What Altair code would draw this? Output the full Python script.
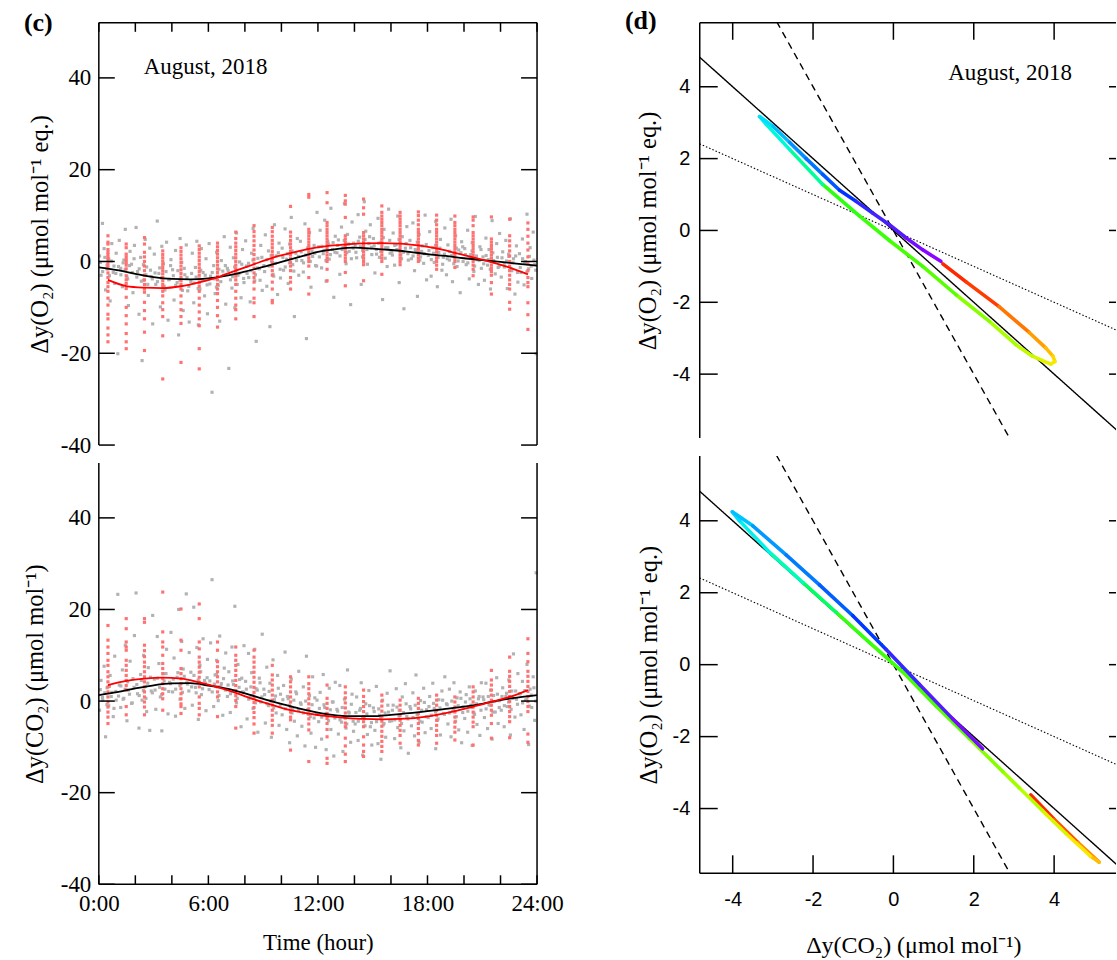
import altair as alt
import pandas as pd

SERIF = "Liberation Serif"
SANS = "Liberation Sans"

# ---------------- data ----------------
HOURS = list(range(25))
RED_HOURS = [i + 0.5 for i in range(24)]
GRAY_FRAC = [0.04, 0.12, 0.20, 0.29, 0.37, 0.45, 0.54, 0.62, 0.71, 0.79, 0.87, 0.95]
CORE_FRAC = [0.08, 0.21, 0.33, 0.44, 0.58, 0.68, 0.83, 0.93]

# fitted diurnal curves, panel (c)
O2_BLACK = [-1.3, -1.9, -2.7, -3.4, -3.8, -3.9, -3.7, -3.1, -2.2, -1.2, -0.1, 1.0, 2.1,
            2.7, 3.0, 2.8, 2.5, 2.1, 1.6, 1.2, 0.7, 0.3, -0.1, -0.5, -0.9]
O2_RED = [-4.0, -5.35, -5.7, -5.8, -5.4, -4.55, -3.45, -2.0, -0.6, 0.8, 1.8, 2.75,
          3.35, 3.7, 3.95, 4.0, 3.9, 3.5, 2.85, 1.9, 0.9, -0.15, -1.35, -2.8]
CO2_BLACK = [1.3, 1.95, 2.75, 3.45, 3.85, 3.9, 3.4, 2.7, 1.7, 0.5, -0.6, -1.65, -2.5,
             -3.1, -3.3, -3.3, -3.0, -2.65, -2.2, -1.7, -1.2, -0.6, 0.2, 0.8, 1.3]
CO2_RED = [3.5, 4.4, 4.9, 5.1, 4.9, 4.1, 3.05, 1.8, 0.35, -0.85, -2.0, -2.75, -3.3,
           -3.65, -3.9, -4.0, -3.9, -3.6, -3.0, -2.2, -1.2, -0.2, 0.9, 2.4]

# red (hour-binned) points, one list per hour column
O2_RED_COLS = [
    [5.6, 4.2, 3.8, 2.6, 2.0, 1.5, 0.9, 0.4, -0.2, -0.9, -1.6, -2.5, -3.5, -4.6, -5.5, -6.5, -8.0, -9.5, -11.5, -12.5, -14.5, -16.0, -17.5],
    [3.8, 3.0, 1.6, 1.0, 0.4, -0.2, -0.8, -1.6, -3.1, -4.0, -4.8, -5.9, -7.8, -10.0, -11.8, -13.6, -15.7, -17.5, -19.0],
    [5.2, 3.8, 2.0, 1.0, 0.0, -1.0, -2.0, -3.0, -4.0, -5.0, -6.0, -6.7, -8.9, -10.7, -12.5, -15.4, -19.4],
    [2.3, 1.5, 0.8, 0.1, -0.6, -1.3, -2.0, -2.7, -3.5, -4.2, -5.0, -5.7, -6.5, -7.5, -9.0, -10.5, -12.0, -16.2, -25.6],
    [3.0, 2.2, 1.4, 0.6, -0.2, -1.0, -1.8, -2.6, -3.4, -4.2, -5.0, -6.0, -7.5, -9.0, -10.5, -12.0, -13.5, -22.0],
    [3.4, 2.6, 1.8, 1.0, 0.2, -0.6, -1.4, -2.2, -3.0, -3.8, -4.6, -5.4, -6.5, -8.0, -9.5, -11.0, -12.5, -14.0, -19.0, -23.4],
    [4.0, 3.2, 2.4, 1.6, 0.8, 0.0, -0.8, -1.6, -2.4, -3.2, -4.0, -5.0, -6.0, -7.0, -8.5, -10.0, -11.8, -14.3],
    [6.4, 5.0, 4.0, 3.2, 2.4, 1.6, 0.8, 0.0, -0.8, -1.6, -2.4, -3.2, -4.0, -5.0, -6.5, -8.0, -9.5, -10.5, -12.5],
    [7.8, 6.5, 5.5, 4.5, 3.5, 2.5, 1.5, 0.5, -0.5, -1.5, -2.5, -3.5, -4.5, -6.0, -8.0, -9.0, -12.0],
    [7.4, 6.5, 5.5, 4.6, 3.8, 3.0, 2.2, 1.4, 0.6, -0.2, -1.0, -2.0, -3.0, -4.5, -6.0, -8.5, -9.0],
    [12.0, 6.4, 5.5, 4.6, 3.8, 3.0, 2.2, 1.4, 0.6, -0.2, -1.0, -2.0, -3.5, -4.5, -6.0],
    [14.6, 14.0, 7.0, 6.3, 5.6, 4.9, 4.2, 3.5, 2.8, 2.1, 1.4, 0.7, 0.0, -1.0, -3.5, -7.1],
    [15.0, 12.8, 8.5, 7.8, 7.0, 6.3, 5.6, 4.9, 4.2, 3.5, 2.8, 2.1, 1.4, 0.7, 0.0, -1.7, -4.2],
    [14.4, 13.2, 12.5, 9.6, 5.6, 4.9, 4.2, 3.5, 2.8, 2.1, 1.4, 0.7, 0.0, -2.4, -5.3],
    [13.6, 11.7, 10.3, 6.3, 5.6, 4.9, 4.2, 3.5, 2.8, 2.1, 1.4, 0.7, 0.0, -0.7, -4.2],
    [12.1, 10.7, 9.9, 9.2, 8.5, 7.8, 7.0, 6.3, 5.6, 4.9, 4.2, 3.5, 2.8, 2.1, 1.4, 0.7, 0.0, -2.8],
    [10.7, 9.9, 9.2, 8.5, 7.8, 7.0, 6.3, 5.6, 4.9, 4.2, 3.5, 2.8, 2.1, 1.4, 0.7, 0.0, -0.7],
    [10.8, 10.0, 9.0, 8.0, 7.0, 6.3, 5.6, 4.9, 4.2, 3.5, 2.8, 2.1, 1.4, 0.7, 0.0],
    [10.1, 9.0, 8.0, 7.0, 6.3, 5.6, 4.9, 4.2, 3.5, 2.8, 2.1, 1.4, 0.7, 0.0, -0.8, -1.7],
    [9.9, 8.5, 7.8, 7.0, 6.3, 5.6, 4.9, 4.2, 3.5, 2.8, 2.1, 1.4, 0.7, 0.0, -1.3],
    [9.7, 9.0, 7.8, 6.3, 5.6, 4.9, 4.2, 3.5, 2.8, 2.1, 1.4, 0.7, 0.0, -0.8, -1.7, -3.1],
    [9.7, 4.9, 4.2, 3.5, 2.8, 2.1, 1.4, 0.7, 0.0, -0.8, -1.5, -2.2, -3.0, -4.6, -7.1],
    [9.2, 5.6, 4.5, 3.4, 2.3, 1.2, 0.0, -1.0, -2.0, -3.0, -4.0, -5.0, -6.0, -8.9, -10.4],
    [8.4, 7.0, 5.5, 4.0, 2.5, 1.0, -0.5, -2.0, -3.5, -4.6, -5.5, -9.0, -11.6, -14.8],
]
CO2_RED_COLS = [
    [16.5, 13.3, 11.8, 10.4, 8.9, 7.8, 6.4, 5.3, 4.2, 3.1, 2.0, 0.9, -0.2, -1.3, -2.4, -3.5, -4.9],
    [18.0, 15.8, 12.9, 11.8, 11.1, 8.9, 7.8, 6.7, 5.6, 4.5, 3.4, 2.4, -1.2, -3.0],
    [18.0, 17.2, 12.2, 11.0, 9.7, 8.5, 7.5, 6.4, 5.3, 4.2, 3.1, 2.0, 0.9, -0.2, -1.3, -3.0],
    [23.8, 15.1, 12.9, 11.8, 10.0, 8.2, 7.1, 6.0, 4.9, 3.8, 2.7, 1.6, 0.5, -2.0],
    [20.1, 13.3, 11.1, 7.1, 6.0, 4.9, 3.8, 2.7, 1.6, 0.5, -0.6, -1.2, -2.7],
    [21.2, 18.0, 12.9, 11.4, 9.6, 8.5, 7.4, 6.3, 5.2, 4.1, 3.1, 0.9, -0.5, -1.6, -3.0],
    [12.9, 11.1, 8.6, 7.5, 6.4, 5.3, 4.2, 3.1, 2.0, 0.9, -3.4],
    [11.8, 10.0, 8.9, 7.8, 6.7, 5.6, 4.5, 3.4, 2.3, 1.2, 0.1, -1.2, -5.9],
    [11.1, 9.6, 8.5, 7.4, 6.3, 5.2, 4.1, 3.0, 1.9, 0.8, -0.3, -1.4, -2.5, -3.6, -5.0, -7.0],
    [7.8, 5.7, 4.6, 3.5, 2.4, 1.3, 0.2, -0.9, -2.0, -3.1, -4.2, -5.3, -7.0],
    [5.3, 4.2, 3.1, 2.0, 0.9, -0.2, -1.3, -2.4, -3.5, -4.1, -10.7],
    [5.3, 3.8, 2.7, 1.6, 0.5, -0.6, -1.7, -2.8, -3.9, -5.0, -6.3, -13.2],
    [3.5, 0.6, -0.5, -1.6, -2.7, -3.8, -4.9, -6.2, -7.8, -12.5, -13.6],
    [3.1, 1.8, 0.7, -0.4, -1.5, -2.6, -3.7, -4.8, -5.6, -8.1, -9.8, -11.6, -13.2],
    [2.4, 1.0, -0.1, -1.2, -2.3, -3.4, -4.5, -5.6, -7.8, -9.6, -11.0, -12.1],
    [1.3, 0.0, -1.1, -2.2, -3.3, -4.4, -5.5, -6.6, -7.7, -8.8, -9.9, -11.0],
    [0.2, -0.9, -2.0, -3.1, -4.2, -5.3, -6.4, -7.5, -9.2],
    [0.6, -0.5, -1.6, -2.7, -3.8, -4.9, -6.0, -7.1, -8.6, -9.6],
    [1.3, 0.2, -0.9, -2.0, -3.1, -4.2, -5.3, -6.4, -7.5, -9.2],
    [0.9, -0.2, -1.3, -2.4, -3.5, -4.6, -5.7, -6.8, -8.5],
    [3.1, 2.0, 0.9, -0.2, -1.3, -2.4, -3.5, -4.6, -5.6, -9.6],
    [6.7, 4.6, 3.5, 2.4, 1.3, 0.2, -0.9, -2.0, -3.1, -4.9, -8.1],
    [9.6, 6.5, 5.4, 4.3, 3.2, 2.1, 1.0, -0.1, -1.2, -2.3, -3.4, -4.5, -8.0],
    [13.6, 10.4, 8.6, 6.5, 5.4, 4.3, 3.2, 2.1, 1.0, -0.1, -1.2, -2.3, -7.2, -9.0],
]

# grey (individual) points, per hour, at GRAY_FRAC / CORE_FRAC positions within the hour
O2_GRAY = [
    [1.2, -3.0, 8.3, 2.8, -6.2, -0.8, 0.6, -8.6, 3.9, -2.4, -4.8, 1.8],
    [-20.1, 4.6, -1.5, -5.5, 0.3, 7.0, -3.4, -9.6, 2.2, -0.6, -6.8, 3.5],
    [7.4, -2.2, -11.5, 0.9, -21.6, -4.1, 4.8, -1.2, -7.4, 2.9, -3.3, -13.6],
    [1.6, -5.0, 8.8, -2.6, -9.9, 3.3, -0.5, -6.2, 4.2, -12.8, -3.9, 0.4],
    [-1.8, -8.4, 2.4, -4.6, -16.0, 5.0, -0.2, -10.7, -2.9, 3.6, -6.4, -13.2],
    [-4.4, 1.8, -9.0, -1.3, 4.4, -13.8, -6.0, 2.8, -2.4, -7.5, 0.6, -11.4],
    [3.9, -3.2, -28.5, -0.9, -7.0, 2.0, -5.2, -13.0, 0.2, -2.1, 5.4, -9.3],
    [-1.5, -23.3, 3.1, -5.8, 0.8, -10.1, 6.2, -3.0, -0.1, -7.9, 2.6, -4.6],
    [4.5, -2.6, -0.4, -8.8, 1.8, 7.2, -4.2, -17.4, 0.7, -1.6, 3.5, -6.3],
    [-0.9, 5.8, -5.4, 2.3, -14.2, 0.1, -2.8, 8.0, 1.2, -7.2, 4.0, -3.6],
    [2.9, -1.9, 7.1, 0.5, -4.8, 3.8, 9.6, -0.7, -12.0, 1.8, 5.0, -3.0],
    [4.4, 0.2, -2.3, 8.2, -16.8, 2.7, 6.3, -5.6, 1.1, 3.5, -0.9, 10.7],
    [3.2, 6.8, -1.4, 1.7, 9.0, -4.3, 4.4, 0.5, 11.6, 2.6, -7.8, 5.5],
    [1.9, 4.7, -2.8, 7.5, 3.1, 12.6, -0.5, 5.9, 2.2, -9.4, 8.6, 4.0],
    [3.6, 0.8, 10.2, 5.3, -5.0, 2.4, 13.0, 6.6, -0.6, 3.9, 8.0, 1.5],
    [5.0, -2.5, 2.6, 9.4, 0.9, 4.2, -8.3, 7.0, 3.0, -1.1, 11.4, 1.8],
    [2.1, 6.2, -0.8, 3.7, 9.9, -4.6, 1.4, 5.4, -10.3, 2.9, 7.6, 0.3],
    [4.6, 0.6, 8.4, -2.0, 2.3, -7.6, 5.9, 1.0, 3.4, -0.4, 10.1, -4.0],
    [1.3, 6.5, -3.2, 3.0, -0.2, 8.7, -5.5, 2.0, 4.8, -1.9, 0.9, 7.3],
    [-2.9, 3.6, 0.3, 9.2, -4.4, 1.6, 5.6, -1.1, 2.5, -6.8, 4.3, 0.0],
    [2.8, -0.7, 6.8, -3.8, 1.5, 4.1, -2.2, 9.8, 0.4, -5.0, 3.2, -1.5],
    [1.0, -4.1, 5.1, -0.8, 2.6, -6.0, 8.9, 0.2, -2.7, 3.9, -1.3, 6.1],
    [-3.4, 2.1, -0.4, 4.6, -5.9, 1.1, 9.3, -2.0, 0.6, -7.1, 3.4, -4.5],
    [1.7, -2.4, 4.9, -5.1, 0.0, 10.3, -1.6, 3.0, -3.7, 6.4, -0.7, -20.1],
]
O2_CORE = [
    [-0.2, -2.2, 0.9, -1.6, -3.1, 0.1, -1.0, -2.6], [-1.1, -2.9, -0.3, -1.8, -3.8, -0.9, -2.4, 0.6],
    [-3.4, -1.6, -4.3, -0.7, -2.9, -5.0, -1.9, -3.8], [-2.5, -4.4, -1.4, -3.6, -5.4, -2.2, -4.0, -0.9],
    [-3.1, -5.2, -2.0, -4.0, -6.3, -1.5, -3.5, -5.4], [-2.6, -4.7, -3.4, -5.9, -1.9, -4.0, -3.0, -5.1],
    [-4.9, -2.4, -3.8, -5.6, -1.7, -4.4, -3.0, -0.9], [-2.0, -4.0, -3.3, -1.2, -5.0, -2.6, -0.6, -3.7],
    [-1.0, -3.5, -2.0, 0.3, -2.9, -1.4, -4.1, 0.9], [-2.2, 0.4, -1.0, 1.3, -3.2, -0.4, 1.9, -1.7],
    [0.9, -1.2, 1.7, -0.3, 2.3, -2.1, 0.2, 1.1], [2.1, -0.3, 1.4, 3.0, 0.0, 2.3, 1.8, -1.0],
    [1.0, 3.3, 2.4, 0.2, 3.8, 1.5, 4.1, 2.0], [3.5, 1.2, 2.6, 4.6, 1.9, 3.8, 0.6, 2.9],
    [2.0, 4.4, 3.2, 1.0, 4.8, 2.6, 5.4, 3.1], [3.4, 1.6, 4.0, 2.2, 5.2, 0.7, 3.0, 4.6],
    [1.4, 3.5, 2.6, 4.8, 0.6, 2.0, 3.9, 1.7], [3.0, 1.2, 2.6, 4.2, 0.3, 2.2, 1.7, 3.7],
    [2.4, 0.4, 1.8, 3.5, 0.9, 2.9, -0.6, 1.6], [0.6, 2.2, 1.3, -0.5, 2.9, 0.1, 1.9, 3.2],
    [1.5, -0.3, 0.8, 2.3, -1.0, 1.2, 0.2, 2.6], [-0.5, 1.3, 0.4, -1.7, 1.9, -0.2, 0.9, -1.0],
    [0.8, -1.2, 0.1, 1.6, -1.6, -0.3, 1.2, -2.4], [-1.3, 0.6, -0.4, -2.3, 1.1, -1.0, 0.3, -1.9],
]
CO2_GRAY = [
    [-2.0, 4.5, 0.8, 7.6, -7.8, 2.9, -1.0, 5.6, 1.9, -3.4, 9.8, 0.2],
    [23.3, 3.5, -1.4, 6.8, 0.6, 12.2, -4.3, 2.4, 8.7, -0.5, 4.9, 14.3],
    [23.6, 1.6, -5.9, 5.8, 0.2, 10.0, 3.2, -2.3, 7.3, -6.4, 2.2, 18.7],
    [4.8, -1.8, 14.1, 8.2, 0.9, -6.5, 6.0, 2.6, 11.3, -2.8, 4.1, 15.0],
    [2.0, 9.4, -3.3, 5.2, 20.0, 0.4, 13.0, 7.0, -1.6, 23.4, 3.7, 10.6],
    [6.3, -0.9, 20.5, 3.0, 11.7, -4.0, 7.8, 1.4, 13.6, 4.5, -2.1, 9.1],
    [2.5, 12.7, 26.5, -1.2, 5.7, 8.9, 0.1, 14.2, 3.8, -3.1, 7.2, 10.5],
    [1.0, 6.4, -2.5, 11.8, 3.6, 20.7, -0.4, 8.0, 4.7, -5.6, 2.0, 12.1],
    [4.3, -3.9, 10.4, 0.8, 6.2, -1.6, 11.3, 2.7, -6.8, 5.0, -0.2, 14.6],
    [2.6, -4.8, 7.4, -1.0, 3.9, -7.9, 9.0, 0.3, -2.6, 5.6, -5.3, 1.5],
    [-3.0, 3.4, 10.7, -6.2, 0.5, -9.1, 4.8, -1.8, -4.4, 2.0, -7.6, 6.5],
    [-0.4, -5.5, 3.1, -9.8, 9.8, -2.8, 1.2, -7.0, 5.3, -3.7, -10.1, 0.2],
    [-4.5, 1.9, -8.3, 5.8, -1.4, -10.6, -3.3, 2.8, -6.2, -0.2, -12.0, 4.1],
    [-1.8, -7.2, 3.4, -4.6, -11.0, 0.4, -5.9, 6.8, -2.6, -9.0, 1.5, -6.6],
    [-5.0, 0.9, -8.6, -2.0, 4.0, -11.8, -3.8, -0.6, -7.3, 2.3, -5.6, -9.6],
    [-1.5, -6.4, 3.2, -9.3, -3.1, -12.7, 0.2, -4.9, -7.9, 1.7, -2.4, 6.6],
    [-4.3, -0.9, -8.2, 2.7, -5.8, -2.0, -10.2, 0.9, -6.5, 3.8, -3.4, -11.4],
    [-1.2, -5.4, 1.8, -7.6, 5.7, -3.0, -9.0, 0.1, -4.6, 2.8, -6.9, -1.9],
    [-3.6, 1.0, -6.0, 3.9, -1.6, -10.4, -4.2, 0.3, -7.4, 2.2, -2.7, 5.3],
    [-0.6, -5.0, 2.6, -7.8, -2.2, 4.0, -4.4, 0.7, -6.3, 2.0, -9.1, -1.3],
    [-3.8, 1.4, -6.8, 3.1, -0.9, -9.7, -2.6, 2.2, -5.1, 0.5, -7.5, 4.0],
    [0.9, -3.6, 3.9, -6.0, -0.8, 2.4, -8.3, 1.2, -2.4, 5.1, -4.9, 0.1],
    [-2.0, 2.9, -5.6, 1.0, -1.2, 4.6, -7.4, 2.2, 10.3, -3.5, 0.4, 6.0],
    [1.6, -3.0, 4.3, -6.2, 0.2, 8.0, -9.5, 2.6, -1.4, 5.3, -4.2, 28.0],
]
CO2_CORE = [
    [2.5, 0.2, 1.8, -0.8, 3.2, 1.0, -1.6, 2.1], [1.1, 3.3, 0.4, 2.6, 4.2, 1.5, -0.4, 3.0],
    [3.6, 1.2, 4.5, 2.3, 0.6, 3.9, 5.2, 1.8], [2.4, 5.0, 3.0, 1.4, 4.4, 6.0, 2.1, 3.8],
    [4.8, 2.6, 6.2, 3.4, 1.9, 5.4, 4.0, 2.2], [3.1, 5.6, 1.8, 4.6, 6.4, 2.7, 3.9, 5.1],
    [4.4, 2.0, 3.7, 5.8, 1.2, 3.2, 4.9, 2.4], [3.5, 1.6, 4.4, 2.2, 0.6, 3.0, 5.0, 1.9],
    [2.6, 0.4, 3.1, 1.2, -0.4, 2.4, 4.0, 0.9], [1.4, -0.6, 2.1, 0.0, -1.5, 1.1, 2.8, -0.9],
    [0.3, -1.7, 1.0, -0.9, -2.6, 0.2, 1.6, -2.0], [-0.7, -2.6, 0.0, -1.9, -3.4, -0.8, 0.7, -2.9],
    [-1.6, -3.5, -0.8, -2.7, -4.3, -1.9, -0.2, -3.7], [-2.2, -4.1, -1.4, -3.4, -5.0, -2.4, -0.7, -4.4],
    [-2.5, -4.4, -1.6, -3.6, -5.4, -2.8, -1.0, -4.7], [-2.3, -4.5, -1.7, -3.8, -5.2, -2.6, -0.9, -4.4],
    [-2.0, -4.1, -1.3, -3.3, -4.9, -2.5, -0.6, -3.9], [-1.7, -3.6, -0.9, -2.9, -4.4, -2.0, -0.3, -3.4],
    [-1.2, -3.1, -0.5, -2.4, -3.9, -1.5, 0.2, -2.9], [-0.8, -2.6, 0.0, -1.9, -3.4, -1.0, 0.6, -2.5],
    [-0.2, -2.2, 0.5, -1.4, -2.9, -0.6, 1.0, -2.0], [0.3, -1.7, 1.0, -0.9, -2.4, -0.1, 1.5, -1.4],
    [1.0, -1.0, 1.7, -0.2, -1.8, 0.6, 2.2, -0.7], [1.6, -0.4, 2.3, 0.4, -1.1, 1.3, 2.9, 0.0],
]

# panel (d): diurnal loops (time of day, dCO2, dO2)
D_TOP_HOUR = [0, 1.0, 2.0, 3.0, 3.6, 4.0, 4.5, 5.0, 5.5, 6.0, 6.6, 7.4, 8.4, 9.4, 10.4, 11.4, 12.5,
              13.5, 14.2, 14.6, 15.5, 16.5, 17.5, 18.5, 19.5, 20.3, 21.0, 21.8, 22.6, 23.3, 24]
D_TOP_CO2 = [1.23, 1.81, 2.63, 3.38, 3.79, 3.97, 4.02, 3.92, 3.70, 3.46, 3.05, 2.39, 1.56, 0.73, -0.10,
             -0.84, -1.76, -2.58, -3.16, -3.33, -3.00, -2.58, -2.17, -1.76, -1.34, -0.93, -0.51, -0.10,
             0.32, 0.73, 1.18]
D_TOP_O2 = [-0.93, -1.43, -2.12, -2.84, -3.27, -3.50, -3.65, -3.72, -3.62, -3.50, -3.18, -2.53, -1.79,
            -1.00, -0.28, 0.40, 1.28, 2.25, 2.95, 3.17, 2.90, 2.45, 2.00, 1.56, 1.12, 0.81, 0.48, 0.16,
            -0.21, -0.54, -0.86]
D_BOT_HOUR = [0, 1.2, 2.4, 3.5, 4.2, 5.2, 6.1, 7.0, 7.5, 8.4, 9.3, 10.2, 11.1, 12.0, 12.9, 13.8, 14.8,
              15.4, 16.3, 17.3, 18.3, 19.3, 20.3, 21.5, 22.7, 23.5]
D_BOT_CO2 = [3.42, 4.00, 4.60, 5.12, 4.90, 4.30, 3.70, 3.13, 2.72, 1.89, 1.06, 0.23, -0.60, -1.42, -2.25,
             -3.08, -3.83, -4.01, -3.50, -2.67, -1.84, -1.01, -0.18, 0.65, 1.47, 2.22]
D_BOT_O2 = [-3.62, -4.30, -4.95, -5.49, -5.32, -4.70, -4.05, -3.42, -2.97, -2.05, -1.15, -0.20, 0.62,
            1.45, 2.28, 3.12, 4.00, 4.25, 3.86, 3.05, 2.22, 1.36, 0.42, -0.55, -1.50, -2.34]

# reference slopes dO2/dCO2: solid, dashed, dotted
REF_SLOPES = [-1.0, -2.0, -0.5]
REF_STYLE = [(1.4, [1, 0]), (1.4, [7, 5]), (1.1, [1.5, 2])]

# time-of-day colour map (rainbow)
HUE_DOMAIN = [0, 1.5, 3, 4.5, 6.5, 9, 12, 14.5, 17, 20, 22.5, 24]
HUE_RANGE = ["#ff1400", "#ff3c00", "#ff8c00", "#ffe600", "#b9ff00", "#50ff00", "#2cff10",
             "#00f0f0", "#0090ff", "#0a2dff", "#5a14ff", "#9600ff"]

C_YTICKS = [-40, -20, 0, 20, 40]
C_XTICKS = list(range(0, 25, 2))
C_XLABELS = [0, 6, 12, 18, 24]
D_TICKS = [-4, -2, 0, 2, 4]

# ---------------- layout ----------------
C_W, C_TOP_H, C_BOT_H = 439, 423, 429
C_BOT_GAP = 7          # bottom-left panel starts 7 px below the row top
D_W, D_TOP_H, D_BOT_H = 417, 416, 418
C_XDOM = [0, 24]
C_TOP_YDOM = [-40, 52]
C_BOT_YDOM = [-40, 53.5]
D_XDOM = [-4.82, 5.54]
D_TOP_YDOM, D_BOT_YDOM = [-5.78, 5.78], [-5.8, 5.8]

ONE = pd.DataFrame({"k": [0]})
BLACK = "black"


def frame_rule(**enc):
    return alt.Chart(ONE).mark_rule(color=BLACK, strokeWidth=1.5).encode(**enc)


def c_panel(gray_vals, core_vals, red_cols, black, red, ytitle, title_x, H, ydom, y0, top, label):
    gray = [{"h": hr + f, "v": v} for hr, vals in enumerate(gray_vals) for f, v in zip(GRAY_FRAC, vals)]
    gray += [{"h": hr + f, "v": v} for hr, vals in enumerate(core_vals) for f, v in zip(CORE_FRAC, vals)]
    reds = [{"h": RED_HOURS[i], "v": v} for i, col in enumerate(red_cols) for v in col]
    xs = alt.Scale(domain=C_XDOM, nice=False, zero=False)
    ys = alt.Scale(domain=ydom, nice=False, zero=False)
    if top:
        xaxis = None
    else:
        xaxis = alt.Axis(values=C_XLABELS, labelExpr="datum.value + ':00'", ticks=False, tickSize=0,
                         domain=False, grid=False, labelFont=SERIF, labelFontSize=23, labelColor=BLACK,
                         labelPadding=26, labelBaseline="alphabetic", labelFlush=False, labelOverlap=False,
                         title="Time (hour)", titleFont=SERIF, titleFontSize=23, titleFontWeight="normal",
                         titleColor=BLACK, titleY=65, titleBaseline="alphabetic")
    yaxis = alt.Axis(values=C_YTICKS, labelExpr="'' + datum.value", ticks=False, tickSize=0, domain=False,
                     grid=False, labelFont=SERIF, labelFontSize=23, labelColor=BLACK, labelPadding=8,
                     labelFlush=False, labelOverlap=False, title=ytitle, titleFont=SERIF, titleFontSize=24.5,
                     titleFontWeight="normal", titleColor=BLACK, titleX=title_x, titleY=(H + y0) / 2,
                     titleBaseline="alphabetic", titleAngle=270)
    X = alt.X("h:Q", scale=xs, axis=xaxis)
    Y = alt.Y("v:Q", scale=ys, axis=yaxis)
    yt = pd.DataFrame({"v": C_YTICKS})
    xt = pd.DataFrame({"h": C_XTICKS})
    layers = [
        alt.Chart(pd.DataFrame(gray)).mark_square(size=10, color="#b2b2b2", opacity=1).encode(x=X, y=Y),
        alt.Chart(pd.DataFrame(reds)).mark_square(size=10, color="#ff7272", opacity=1).encode(x=X, y=Y),
        alt.Chart(pd.DataFrame({"h": HOURS, "v": black})).mark_line(
            color=BLACK, strokeWidth=1.8, interpolate="monotone").encode(x=X, y=Y),
        alt.Chart(pd.DataFrame({"h": RED_HOURS, "v": red})).mark_line(
            color="#ff0000", strokeWidth=1.8, interpolate="monotone").encode(x=X, y=Y),
        alt.Chart(yt).mark_rule(color=BLACK, strokeWidth=1.5).encode(y=Y, x=alt.value(0), x2=alt.value(16)),
        alt.Chart(yt).mark_rule(color=BLACK, strokeWidth=1.5).encode(y=Y, x=alt.value(C_W - 16), x2=alt.value(C_W)),
        frame_rule(x=alt.value(0), y=alt.value(y0), y2=alt.value(H)),
        frame_rule(x=alt.value(C_W), y=alt.value(y0), y2=alt.value(H)),
    ]
    if top:
        layers += [
            alt.Chart(xt).mark_rule(color=BLACK, strokeWidth=1.5).encode(x=X, y=alt.value(0), y2=alt.value(9)),
            frame_rule(y=alt.value(0), x=alt.value(0), x2=alt.value(C_W)),
            alt.Chart(ONE).mark_text(text="August, 2018", font=SERIF, fontSize=23, align="left",
                                     baseline="alphabetic", color=BLACK).encode(x=alt.value(45), y=alt.value(51)),
            alt.Chart(ONE).mark_text(text=label, font=SERIF, fontSize=26, fontWeight="bold", align="left",
                                     baseline="alphabetic", color=BLACK).encode(x=alt.value(-75), y=alt.value(8)),
            # white anchor fixing the page origin
            alt.Chart(ONE).mark_rule(color="white", strokeWidth=1).encode(
                x=alt.value(-98), x2=alt.value(-97), y=alt.value(-21), y2=alt.value(-20)),
        ]
    else:
        layers += [
            alt.Chart(xt).mark_rule(color=BLACK, strokeWidth=1.5).encode(x=X, y=alt.value(H - 9), y2=alt.value(H)),
            frame_rule(y=alt.value(H), x=alt.value(0), x2=alt.value(C_W)),
        ]
    return alt.layer(*layers).properties(width=C_W, height=H)


def d_panel(hours, co2, o2, ydom, H, top, title_x, label):
    xs = alt.Scale(domain=D_XDOM, nice=False, zero=False)
    ys = alt.Scale(domain=ydom, nice=False, zero=False)
    if top:
        xaxis = None
    else:
        xaxis = alt.Axis(values=D_TICKS, labelExpr="'' + datum.value", ticks=False, tickSize=0, domain=False,
                         grid=False, labelFont=SANS, labelFontSize=20, labelColor=BLACK, labelPadding=32,
                         labelBaseline="alphabetic", labelFlush=False, labelOverlap=False,
                         title="Δy(CO₂)  (μmol mol⁻¹)", titleFont=SERIF, titleFontSize=24,
                         titleFontWeight="normal", titleColor=BLACK, titleX=214, titleY=79,
                         titleBaseline="alphabetic")
    yaxis = alt.Axis(values=D_TICKS, labelExpr="'' + datum.value", ticks=False, tickSize=0, domain=False,
                     grid=False, labelFont=SANS, labelFontSize=20, labelColor=BLACK, labelPadding=10,
                     labelFlush=False, labelOverlap=False, title="Δy(O₂)  (μmol mol⁻¹ eq.)", titleFont=SERIF,
                     titleFontSize=24.5, titleFontWeight="normal", titleColor=BLACK, titleX=title_x,
                     titleY=H / 2, titleBaseline="alphabetic", titleAngle=270)
    X = alt.X("cx:Q", scale=xs, axis=xaxis)
    Y = alt.Y("oy:Q", scale=ys, axis=yaxis)
    segs = pd.DataFrame([{"cx": co2[i], "oy": o2[i], "cx2": co2[i + 1], "oy2": o2[i + 1],
                          "t": (hours[i] + hours[i + 1]) / 2} for i in range(len(hours) - 1)])
    layers = []
    for k, (w, dash) in zip(REF_SLOPES, REF_STYLE):
        ref = pd.DataFrame({"cx": [-8.0], "oy": [-8.0 * k], "cx2": [8.0], "oy2": [8.0 * k]})
        layers.append(alt.Chart(ref).mark_rule(color=BLACK, strokeWidth=w, strokeDash=dash, clip=True).encode(
            x=X, y=Y, x2="cx2:Q", y2="oy2:Q"))
    layers.append(alt.Chart(segs).mark_rule(strokeWidth=3.6, strokeCap="round").encode(
        x=X, y=Y, x2="cx2:Q", y2="oy2:Q",
        color=alt.Color("t:Q", scale=alt.Scale(domain=HUE_DOMAIN, range=HUE_RANGE), legend=None)))
    yt = pd.DataFrame({"oy": D_TICKS})
    xt = pd.DataFrame({"cx": D_TICKS})
    layers += [
        alt.Chart(yt).mark_rule(color=BLACK, strokeWidth=1.5).encode(y=Y, x=alt.value(0), x2=alt.value(18)),
        alt.Chart(yt).mark_rule(color=BLACK, strokeWidth=1.5).encode(y=Y, x=alt.value(D_W - 7), x2=alt.value(D_W)),
        frame_rule(x=alt.value(0), y=alt.value(0), y2=alt.value(H)),
    ]
    if top:
        layers += [
            alt.Chart(xt).mark_rule(color=BLACK, strokeWidth=1.5).encode(x=X, y=alt.value(0), y2=alt.value(17)),
            frame_rule(y=alt.value(0), x=alt.value(0), x2=alt.value(D_W)),
            alt.Chart(ONE).mark_text(text="August, 2018", font=SERIF, fontSize=23, align="left",
                                     baseline="alphabetic", color=BLACK).encode(x=alt.value(249), y=alt.value(57)),
            alt.Chart(ONE).mark_text(text=label, font=SERIF, fontSize=26, fontWeight="bold", align="left",
                                     baseline="alphabetic", color=BLACK).encode(x=alt.value(-75), y=alt.value(6)),
        ]
    else:
        layers += [
            alt.Chart(xt).mark_rule(color=BLACK, strokeWidth=1.5).encode(x=X, y=alt.value(H - 18), y2=alt.value(H)),
            frame_rule(y=alt.value(H), x=alt.value(0), x2=alt.value(D_W)),
        ]
    return alt.layer(*layers).properties(width=D_W, height=H)


c_top = c_panel(O2_GRAY, O2_CORE, O2_RED_COLS, O2_BLACK, O2_RED, "Δy(O₂)  (μmol mol⁻¹ eq.)",
                -51.5, C_TOP_H, C_TOP_YDOM, 0, True, "(c)")
c_bot = c_panel(CO2_GRAY, CO2_CORE, CO2_RED_COLS, CO2_BLACK, CO2_RED, "Δy(CO₂)  (μmol mol⁻¹)",
                -56.5, C_BOT_H, C_BOT_YDOM, C_BOT_GAP, False, "")
d_top = d_panel(D_TOP_HOUR, D_TOP_CO2, D_TOP_O2, D_TOP_YDOM, D_TOP_H, True, -44, "(d)")
d_bot = d_panel(D_BOT_HOUR, D_BOT_CO2, D_BOT_O2, D_BOT_YDOM, D_BOT_H, False, -43, "")

chart = alt.concat(
    c_top, d_top, c_bot, d_bot, columns=2,
    spacing={"row": 11, "column": 163}, bounds="flush",
).properties(padding=0, background="white").configure_view(stroke=None)

chart.save("out.html", embed_options={"renderer": "svg", "actions": False})
